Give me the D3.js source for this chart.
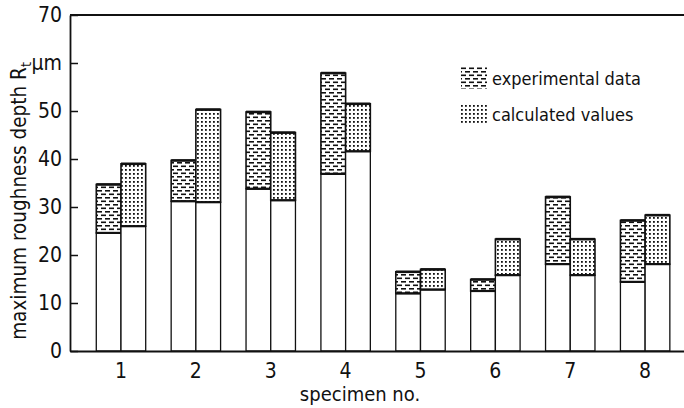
<!DOCTYPE html>
<html><head><meta charset="utf-8">
<script src="https://cdn.jsdelivr.net/npm/d3@7"></script>
<style>
html,body{margin:0;padding:0;background:#fff;}
svg{display:block;}
text{font-family:"DejaVu Sans Condensed","DejaVu Sans",sans-serif;fill:#111;}
.num{font-family:"Liberation Sans Narrow","DejaVu Sans Condensed",sans-serif;}
</style></head>
<body>
<svg id="chart" width="684" height="408"></svg>
<script>
const specimens = ["1","2","3","4","5","6","7","8"];
const expLow   = [24.6, 31.2, 33.8, 36.9, 12.0, 12.5, 18.1, 14.4];
const expHigh  = [34.7, 39.7, 49.8, 57.9, 16.5, 14.9, 32.1, 27.2];
const calcLow  = [26.0, 31.0, 31.4, 41.6, 12.8, 15.8, 15.8, 18.1];
const calcHigh = [39.0, 50.3, 45.5, 51.5, 17.0, 23.3, 23.3, 28.3];
const yTicks = [0,10,20,30,40,50,60,70];
const yTickLabels = ["0","10","20","30","40","50","µm","70"];
const seriesNames = ["experimental data","calculated values"];

const svg = d3.select("#chart");
const mLeft = 70, mRight = 684, mTop = 15, mBottom = 351;

const x = d3.scaleBand().domain(specimens).range([mLeft, mRight])
  .paddingInner(0.34).paddingOuter(0.27).align(0.65);
const xs = d3.scaleBand().domain([0,1]).range([0, x.bandwidth()]);
const y = d3.scaleLinear().domain([0,70]).range([mBottom, mTop]);

// patterns
const defs = svg.append("defs");
const pe = defs.append("pattern").attr("id","pexp").attr("patternUnits","userSpaceOnUse")
  .attr("width",8).attr("height",7);
pe.append("rect").attr("width",8).attr("height",7).attr("fill","#fff");
pe.append("rect").attr("x",1).attr("y",1).attr("width",5).attr("height",1.6).attr("fill","#111");
pe.append("rect").attr("x",5).attr("y",4.5).attr("width",5).attr("height",1.6).attr("fill","#111");
pe.append("rect").attr("x",-3).attr("y",4.5).attr("width",5).attr("height",1.6).attr("fill","#111");
const pc = defs.append("pattern").attr("id","pcalc").attr("patternUnits","userSpaceOnUse")
  .attr("width",4).attr("height",4);
pc.append("rect").attr("width",4).attr("height",4).attr("fill","#fff");
pc.append("rect").attr("x",1).attr("y",1).attr("width",1.8).attr("height",1.8).attr("fill","#111");

const series = [
  {low: expLow, high: expHigh, fill: "url(#pexp)"},
  {low: calcLow, high: calcHigh, fill: "url(#pcalc)"}
];

// frame line at top
svg.append("line").attr("x1",mLeft).attr("x2",mRight).attr("y1",y(70)).attr("y2",y(70))
  .attr("stroke","#111").attr("stroke-width",1.8);

series.forEach((s, si) => {
  const g = svg.append("g");
  specimens.forEach((sp, i) => {
    const bx = x(sp) + xs(si), bw = xs.bandwidth();
    g.append("rect").attr("x",bx).attr("y",y(s.low[i])).attr("width",bw)
      .attr("height",y(0)-y(s.low[i])).attr("fill","#fff").attr("stroke","#111").attr("stroke-width",1.3);
    g.append("rect").attr("x",bx).attr("y",y(s.high[i])).attr("width",bw)
      .attr("height",y(s.low[i])-y(s.high[i])).attr("fill",s.fill).attr("stroke","#111").attr("stroke-width",1.6);
    g.append("line").attr("x1",bx).attr("x2",bx+bw).attr("y1",y(s.high[i])).attr("y2",y(s.high[i]))
      .attr("stroke","#111").attr("stroke-width",2.6);
    g.append("line").attr("x1",bx).attr("x2",bx+bw).attr("y1",y(s.low[i])).attr("y2",y(s.low[i]))
      .attr("stroke","#111").attr("stroke-width",2.2);
  });
});

// y axis
const ya = svg.append("g").attr("transform",`translate(${mLeft},0)`)
  .call(d3.axisLeft(y).tickValues(yTicks).tickSizeInner(-8).tickSizeOuter(0).tickPadding(8)
    .tickFormat((d,i)=>yTickLabels[i]));
ya.select(".domain").attr("stroke","#111").attr("stroke-width",1.8);
ya.selectAll(".tick line").attr("stroke","#111").attr("stroke-width",1.5);
ya.selectAll(".tick text").attr("font-size",21).attr("font-family",null).attr("class","num");

// x axis
const xa = svg.append("g").attr("transform",`translate(0,${mBottom})`)
  .call(d3.axisBottom(x).tickSize(0).tickPadding(12));
xa.select(".domain").attr("stroke","#111").attr("stroke-width",1.8);
xa.selectAll(".tick text").attr("font-size",21).attr("font-family",null).attr("class","num");

// axis titles
svg.append("text").attr("x",360).attr("y",401).attr("text-anchor","middle")
  .attr("font-size",20).text("specimen no.");
const yt = svg.append("text").attr("transform","translate(26,201) rotate(-90)")
  .attr("text-anchor","middle").attr("font-size",20.5);
yt.append("tspan").text("maximum roughness depth R");
yt.append("tspan").attr("font-size",14).attr("dy",5).text("t");

// legend
const fills = ["url(#pexp)","url(#pcalc)"];
seriesNames.forEach((n, i) => {
  const ly = 67 + i*36;
  svg.append("rect").attr("x",461).attr("y",ly).attr("width",26).attr("height",22).attr("fill",fills[i]);
  svg.append("text").attr("x",492).attr("y",ly+18).attr("font-size",18).text(n);
});
</script>
</body></html>
